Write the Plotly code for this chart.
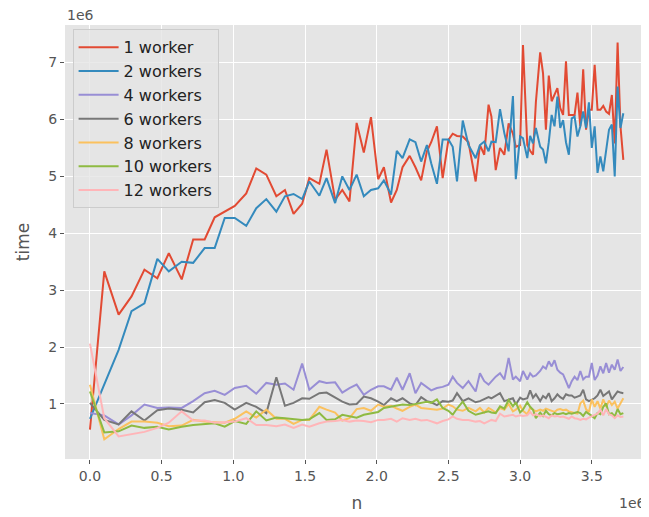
import plotly.graph_objects as go

# n values (in units of 1e6)
n = [0.00, 0.10, 0.20, 0.29, 0.38, 0.47, 0.55, 0.64, 0.72, 0.80, 0.87, 0.94,
     1.01, 1.09, 1.16, 1.23, 1.30, 1.36, 1.42, 1.48, 1.53, 1.60, 1.65, 1.71,
     1.76, 1.81, 1.86, 1.91, 1.96, 2.01, 2.05, 2.10, 2.14, 2.18, 2.23, 2.27,
     2.31, 2.35, 2.38, 2.42, 2.46, 2.50, 2.53, 2.56, 2.60, 2.64, 2.69, 2.72,
     2.75, 2.78, 2.80, 2.83, 2.86, 2.89, 2.92, 2.95, 2.97, 3.00, 3.02, 3.05,
     3.07, 3.09, 3.11, 3.14, 3.16, 3.18, 3.20, 3.22, 3.24, 3.26, 3.28, 3.30,
     3.32, 3.34, 3.36, 3.38, 3.40, 3.42, 3.44, 3.46, 3.48, 3.50, 3.52, 3.54,
     3.56, 3.58, 3.60, 3.62, 3.64, 3.66, 3.68, 3.70, 3.72]

# time values (in units of 1e6)
w1 = [0.55, 3.33, 2.57, 2.89, 3.36, 3.21, 3.65, 3.19, 3.89, 3.89, 4.28, 4.38,
      4.48, 4.70, 5.14, 5.03, 4.65, 4.76, 4.34, 4.52, 4.97, 4.87, 5.47, 4.59,
      4.76, 4.56, 5.94, 5.42, 6.04, 4.95, 5.16, 4.54, 4.76, 5.16, 5.36, 5.16,
      4.93, 5.44, 5.60, 5.88, 4.97, 5.64, 5.75, 5.71, 5.70, 5.60, 4.91, 5.55,
      5.38, 6.26, 6.05, 5.11, 5.50, 5.38, 5.93, 5.75, 5.52, 5.55, 7.31, 5.55,
      5.45, 5.38, 6.30, 7.18, 6.81, 5.82, 6.77, 6.32, 6.45, 6.55, 6.20, 6.08,
      7.02, 6.08, 6.08, 6.08, 6.47, 5.88, 6.88, 5.82, 6.17, 6.17, 6.96, 6.17,
      6.17, 6.24, 6.14, 6.10, 6.43, 5.58, 7.35, 5.88, 5.29]
w2 = [0.74, 1.35, 1.95, 2.63, 2.77, 3.55, 3.33, 3.50, 3.48, 3.74, 3.74, 4.27,
      4.27, 4.13, 4.44, 4.60, 4.38, 4.65, 4.69, 4.60, 4.91, 4.66, 4.97, 4.53,
      5.00, 4.76, 5.03, 4.65, 4.76, 4.79, 4.93, 4.68, 5.45, 5.32, 5.65, 5.60,
      5.26, 5.55, 5.23, 4.87, 5.65, 5.65, 5.52, 4.91, 5.98, 5.55, 5.32, 5.55,
      5.61, 5.44, 5.61, 5.60, 6.18, 5.76, 5.44, 6.41, 4.95, 5.70, 5.67, 5.32,
      5.71, 5.58, 5.85, 5.52, 5.47, 5.23, 5.60, 6.08, 5.88, 6.40, 5.85, 5.99,
      5.60, 5.38, 6.02, 6.05, 5.70, 5.88, 6.14, 5.85, 6.30, 5.50, 5.88, 5.06,
      5.35, 5.09, 5.50, 5.82, 5.91, 5.00, 6.58, 5.85, 6.11]
w4 = [0.84, 0.80, 0.64, 0.80, 0.99, 0.93, 0.94, 0.93, 1.05, 1.19, 1.23, 1.16,
      1.28, 1.32, 1.18, 1.37, 1.34, 1.36, 1.25, 1.71, 1.25, 1.40, 1.37, 1.38,
      1.20, 1.28, 1.34, 1.16, 1.25, 1.31, 1.31, 1.25, 1.46, 1.25, 1.54, 1.19,
      1.37, 1.30, 1.24, 1.28, 1.30, 1.34, 1.48, 1.37, 1.28, 1.40, 1.22, 1.54,
      1.40, 1.34, 1.40, 1.48, 1.54, 1.43, 1.81, 1.43, 1.48, 1.40, 1.58, 1.43,
      1.54, 1.48, 1.50, 1.58, 1.66, 1.62, 1.75, 1.66, 1.77, 1.60, 1.55, 1.52,
      1.40, 1.28, 1.40, 1.48, 1.42, 1.58, 1.43, 1.48, 1.48, 1.72, 1.42, 1.50,
      1.66, 1.54, 1.72, 1.55, 1.69, 1.60, 1.78, 1.58, 1.65]
w6 = [1.02, 0.72, 0.64, 0.87, 0.71, 0.89, 0.92, 0.90, 0.85, 1.03, 1.07, 1.02,
      0.90, 1.02, 0.95, 0.84, 1.47, 0.97, 1.02, 1.10, 1.09, 1.19, 1.20, 1.12,
      1.04, 0.99, 1.00, 1.13, 1.10, 1.04, 0.98, 1.10, 1.05, 1.10, 1.01, 0.98,
      1.12, 1.05, 1.03, 0.98, 1.05, 1.04, 1.06, 1.19, 1.05, 1.10, 1.03, 1.05,
      1.08, 1.12, 1.10, 1.14, 1.19, 1.05, 1.08, 1.10, 0.99, 1.11, 1.08, 1.10,
      1.24, 1.11, 1.17, 1.05, 1.14, 1.10, 1.19, 1.05, 1.10, 1.17, 1.12, 1.09,
      1.17, 1.15, 1.15, 1.11, 1.13, 1.15, 1.25, 1.08, 1.05, 1.08, 1.10, 1.15,
      1.25, 1.14, 1.18, 1.22, 1.08, 1.15, 1.22, 1.20, 1.19]
w8 = [1.34, 0.38, 0.56, 0.69, 0.69, 0.67, 0.61, 0.62, 0.72, 0.69, 0.68, 0.67,
      0.74, 0.87, 0.76, 0.90, 0.74, 0.74, 0.65, 0.72, 0.72, 0.95, 0.90, 0.85,
      0.71, 0.75, 0.91, 0.93, 0.88, 0.99, 0.95, 0.97, 0.92, 0.88, 0.95, 0.99,
      0.93, 0.92, 0.90, 0.90, 0.92, 0.99, 0.96, 0.90, 0.88, 0.93, 0.87, 0.93,
      0.85, 0.93, 0.90, 0.85, 0.93, 0.90, 1.00, 0.87, 0.90, 0.97, 0.88, 0.82,
      0.93, 0.90, 0.87, 0.90, 0.88, 0.92, 0.90, 0.88, 0.86, 0.90, 0.91, 0.89,
      0.90, 0.87, 0.85, 0.84, 0.83, 1.01, 1.06, 0.91, 0.86, 1.08, 0.95, 1.05,
      0.92, 1.08, 0.95, 1.06, 0.98, 1.04, 0.92, 1.02, 1.10]
w10 = [1.22, 0.50, 0.52, 0.62, 0.58, 0.60, 0.55, 0.60, 0.63, 0.64, 0.66, 0.60,
       0.70, 0.65, 0.87, 0.71, 0.76, 0.75, 0.73, 0.72, 0.73, 0.84, 0.72, 0.73,
       0.81, 0.78, 0.76, 0.81, 0.83, 0.86, 0.93, 0.95, 0.97, 0.99, 0.98, 1.00,
       1.01, 1.04, 1.02, 1.08, 0.93, 0.88, 0.81, 0.92, 1.04, 0.88, 0.81, 0.83,
       0.84, 0.87, 0.85, 0.84, 0.96, 0.92, 1.07, 0.96, 1.03, 0.85, 0.90, 1.03,
       0.95, 0.90, 0.75, 0.85, 0.79, 0.88, 0.82, 0.80, 0.84, 0.82, 0.83, 0.84,
       0.82, 0.84, 0.83, 0.85, 0.86, 0.84, 0.79, 0.86, 0.83, 0.79, 0.75, 0.84,
       0.82, 0.95, 1.01, 0.82, 0.84, 0.78, 0.91, 0.82, 0.84]
w12 = [2.06, 0.75, 0.43, 0.47, 0.51, 0.58, 0.67, 0.87, 0.71, 0.71, 0.67, 0.68,
       0.69, 0.75, 0.63, 0.63, 0.61, 0.64, 0.58, 0.64, 0.60, 0.66, 0.69, 0.70,
       0.72, 0.69, 0.71, 0.70, 0.68, 0.72, 0.72, 0.74, 0.69, 0.75, 0.72, 0.74,
       0.71, 0.72, 0.70, 0.66, 0.70, 0.73, 0.78, 0.74, 0.72, 0.72, 0.69, 0.70,
       0.66, 0.70, 0.72, 0.70, 0.83, 0.78, 0.80, 0.81, 0.78, 0.80, 0.79, 0.80,
       0.86, 0.80, 0.82, 0.78, 0.80, 0.78, 0.75, 0.80, 0.78, 0.79, 0.77, 0.78,
       0.76, 0.74, 0.78, 0.75, 0.74, 0.72, 0.74, 0.73, 0.76, 0.79, 0.81, 0.83,
       0.90, 0.80, 0.91, 0.82, 0.80, 0.75, 0.80, 0.77, 0.78]

labels = ["1 worker", "2 workers", "4 workers", "6 workers",
          "8 workers", "10 workers", "12 workers"]
series = [w1, w2, w4, w6, w8, w10, w12]
# matplotlib ggplot style cycle
colors = ["#E24A33", "#348ABD", "#988ED5", "#777777",
          "#FBC15E", "#8EBA42", "#FFB5B8"]

x_ticks = [0.0, 0.5, 1.0, 1.5, 2.0, 2.5, 3.0, 3.5]
y_ticks = [1, 2, 3, 4, 5, 6, 7]

fig = go.Figure()
for i, (lab, ys) in enumerate(zip(labels, series)):
    fig.add_trace(go.Scatter(
        x=n, y=ys, mode="lines", name=lab, legendgroup=str(i),
        line=dict(color=colors[i], width=2)
    ))

axis_common = dict(
    showgrid=True, gridcolor="white", gridwidth=1, zeroline=False,
    showline=False, ticks="outside", ticklen=4, tickcolor="#555555",
    tickfont=dict(size=14, color="#555555"), automargin=False,
)

# the page body adds an 8px offset, so the figure is 8px smaller than the window
fig.update_layout(
    width=641, height=509,
    margin=dict(l=57, r=0, t=17, b=58),
    paper_bgcolor="white", plot_bgcolor="#E5E5E5",
    font=dict(family="DejaVu Sans", color="#555555"),
    xaxis=dict(range=[-0.174, 3.899], tickvals=x_ticks,
               ticktext=[f"{v:.1f}" for v in x_ticks],
               title=dict(text="n", font=dict(size=17, color="#555555"), standoff=14),
               **axis_common),
    yaxis=dict(range=[0.033, 7.66], tickvals=y_ticks,
               ticktext=[str(v) for v in y_ticks],
               title=dict(text="time", font=dict(size=17, color="#555555"), standoff=14),
               **axis_common),
    legend=dict(x=0.013, y=0.99, xanchor="left", yanchor="top",
                bgcolor="rgba(229,229,229,0.8)", bordercolor="#CCCCCC", borderwidth=1,
                font=dict(size=16, color="#222222"), tracegroupgap=0,
                itemwidth=40, traceorder="grouped"),
    showlegend=True,
    annotations=[
        dict(text="1e6", xref="paper", yref="paper", x=0.0, y=1.0,
             xanchor="left", yanchor="bottom", showarrow=False,
             font=dict(size=14, color="#555555"), yshift=0),
        dict(text="1e6", xref="paper", yref="paper", x=1.0, y=0.0,
             xanchor="right", yanchor="top", showarrow=False,
             font=dict(size=14, color="#555555"), xshift=-1, yshift=-34),
    ],
)

fig.write_html("out.html")
